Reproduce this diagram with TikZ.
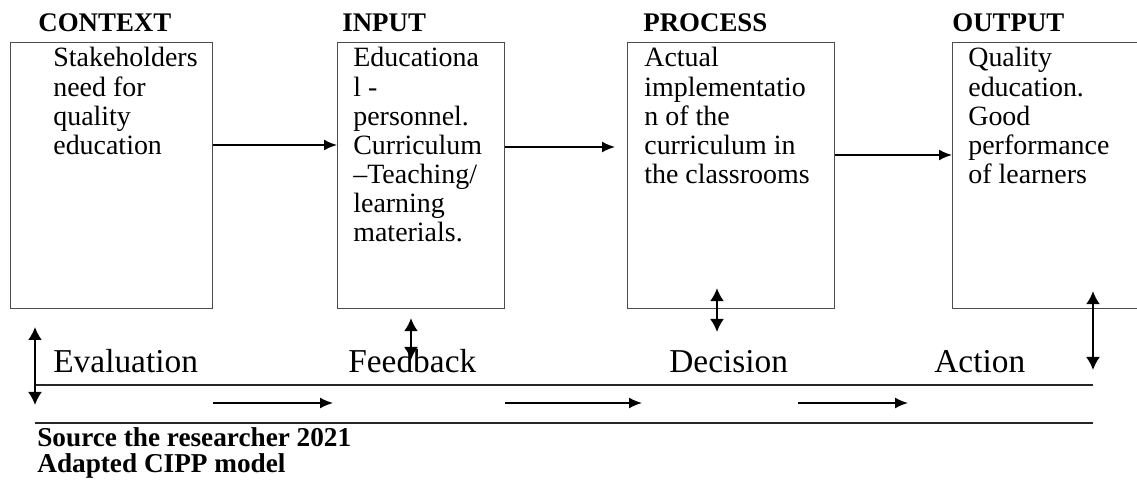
\documentclass[tikz,border=0pt]{standalone}
\usepackage{fontspec}
\setmainfont{Liberation Serif}
\usetikzlibrary{arrows.meta}

\tikzset{
  box/.style={draw=black!70, line width=0.7pt, anchor=north west, inner sep=0pt},
  head/.style={anchor=base west, inner sep=0pt, font=\bfseries\fontsize{15.3}{18}\selectfont},
  stage/.style={anchor=base west, inner sep=0pt, font=\fontsize{19}{22}\selectfont},
  body/.style={anchor=base west, inner sep=0pt},
  note/.style={anchor=base west, inner sep=0pt, align=left,
    font=\bfseries\fontsize{15.5}{14.8}\selectfont},
  flow/.style={-{Latex[length=0.26cm,width=0.22cm]}, line width=1pt},
  both/.style={{Latex[length=0.26cm,width=0.28cm]}-{Latex[length=0.26cm,width=0.28cm]}, line width=1.1pt},
  rail/.style={line width=1.1pt, black!85}
}
\newcommand{\boxtext}[1]{\parbox[t]{4cm}{\fontsize{15.9}{16.6}\selectfont\raggedright #1}}

\begin{document}
\begin{tikzpicture}[x=0.02cm, y=-0.02cm]
  \useasboundingbox (0,0) rectangle (1137,482);
  %% stages
  \node[box, minimum width=4.04cm, minimum height=5.32cm] (ctx) at (10,42) {};
  \node[box, minimum width=3.34cm, minimum height=5.32cm] (inp) at (337,42) {};
  \node[box, minimum width=4.14cm, minimum height=5.32cm] (prc) at (627,42) {};
  \node[box, minimum width=4.00cm, minimum height=5.32cm] (out) at (952,42) {};
  \node[head] (ctxhead) at (38,32) {CONTEXT};
  \node[head] (inphead) at (342,32) {INPUT};
  \node[head] (prchead) at (643,32) {PROCESS};
  \node[head] (outhead) at (952,32) {OUTPUT};
  \node[body] (ctxtext) at (53,67) {\boxtext{Stakeholders\\need for\\quality\\education}};
  \node[body] (inptext) at (353,67) {\boxtext{Educationa\\l -\\personnel.\\Curriculum\\--Teaching/\\learning\\materials.}};
  \node[body] (prctext) at (644,67) {\boxtext{Actual\\implementatio\\n of the\\curriculum in\\the classrooms}};
  \node[body] (outtext) at (968,67) {\boxtext{Quality\\education.\\Good\\performance\\of learners}};
  \draw[flow] (ctx.east |- 0,145) -- (inp.west |- 0,145);
  \draw[flow] (inp.east |- 0,147) -- ([xshift=-0.24cm]prc.west |- 0,147);
  \draw[flow] (prc.east |- 0,155) -- (out.west |- 0,155);
  %% feedback loop
  \node[stage] (eval) at (53,373) {Evaluation};
  \node[stage] (feed) at (348,373) {Feedback};
  \node[stage] (dec) at (669,373) {Decision};
  \node[stage] (act) at (934,373) {Action};
  \coordinate (railw) at (35,385);
  \coordinate (raile) at (1093,385);
  \coordinate (basew) at (35,423);
  \coordinate (basee) at (1093,423);
  \draw[rail] (railw) -- (raile);
  \draw[rail] (basew) -- (basee);
  \draw[both] (35,327) -- (35,405);
  \draw[both] (inp.south -| 411,0) ++(0,9) -- (411,360);
  \draw[both] (prc.south -| 717,0) ++(0,-21) -- (717,332);
  \draw[both] (out.south -| 1093,0) ++(0,-18) -- (1093,370);
  \draw[flow] (ctx.east |- 0,403) -- (333,403);
  \draw[flow] (inp.east |- 0,403) -- (642,403);
  \draw[flow] (798,403) -- (908,403);
  %% source
  \node[note] (src) at (37,473) {Source the researcher 2021\\Adapted CIPP model};
\end{tikzpicture}
\end{document}
